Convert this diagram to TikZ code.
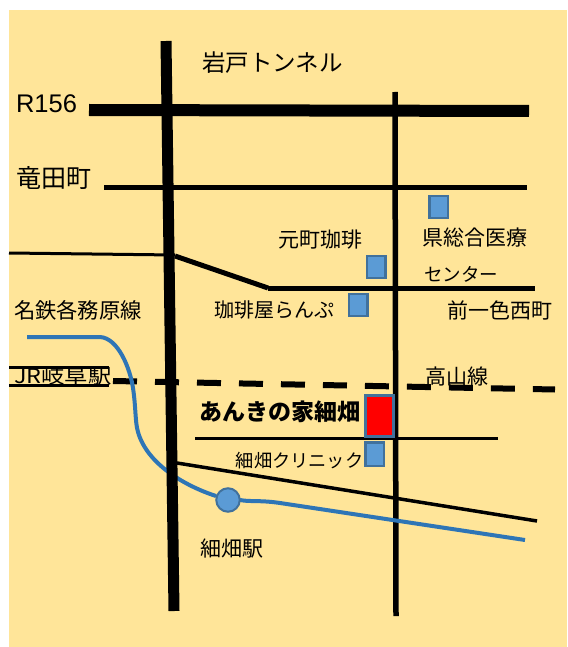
\documentclass[tikz,border=0pt]{standalone}
\usepackage{graphicx}
\usepackage{fontspec}
\setmainfont{Noto Sans CJK JP}
\newfontfamily\latinfont{Liberation Sans}
\definecolor{bg}{HTML}{FFE599}
\definecolor{bluefill}{HTML}{5B9BD5}
\definecolor{blueedge}{HTML}{41719C}
\definecolor{river}{HTML}{2E75B6}
\tikzset{
  x=1pt,y=-1pt,
  lab/.style={inner sep=0pt,anchor=center,text=black,font=\fontsize{#1}{#1}\selectfont},
  lab/.default=19,
  mark box/.style={draw=blueedge,fill=bluefill,line width=2.5pt,inner sep=0pt,minimum width=18.5pt,minimum height=22pt},
  road/.style={draw=black,line width=#1},
  road/.default=4
}
\begin{document}
\begin{tikzpicture}
\useasboundingbox (0,0) rectangle (567,647);
\fill[white] (0,0) rectangle (567,647);
\fill[bg] (9,10) rectangle (567,647);
% roads
\draw[road=12] (89,110) -- (529,111);
\draw[road=5] (104,187) -- (527,187);
\draw[road=5.5] (395,92) -- (396,616);
\draw[road=3] (9,253) -- (175,255);
\draw[road=5] (175,256) -- (268,288);
\draw[road=5] (268,288) -- (535,288);
\draw[road=3] (195,438) -- (498,438);
\draw[road=3.5] (177,463) -- (537,521);
\draw[line width=6pt,dash pattern=on 24pt off 18pt] (113,381) -- (555,389.5);
\draw[line width=3pt] (9,367) -- (109,367);
\draw[line width=3pt] (9,385) -- (109,385);
% river
\draw[river,line width=4pt] (27,337) -- (100,337) .. controls (118,338) and (130,368) .. (133,388)
  .. controls (136,408) and (135,422) .. (138,432)
  .. controls (147,464) and (185,486) .. (216,496);
\draw[river,line width=4pt] (240,500) .. controls (250,502) and (260,500) .. (280,503) -- (525,540);
\draw[road=11] (166,41) -- (174,611);
\node[circle,draw=blueedge,fill=bluefill,line width=2pt,minimum size=23.5pt,inner sep=0pt] (st) at (228,500) {};
% boxes
\node[mark box] (b1) at (438.7,207) {};
\node[mark box] (b2) at (376,267) {};
\node[mark box] (b3) at (358,305) {};
\node[mark box,minimum height=23.5pt] (b4) at (374.5,454) {};
\node[draw=blueedge,fill=red,line width=3pt,minimum width=27.5pt,minimum height=41.5pt,inner sep=0pt] (home) at (379.5,416) {};
% labels
\node[lab=23.5] (t1) at (272.5,63) {岩戸トンネル};
\node[lab=25.5,font=\fontsize{25.5}{25.5}\selectfont\latinfont] (t2) at (46.5,104) {R156};
\node[lab=25] (t3) at (54,178) {竜田町};
\node[lab=21] (t4) at (320,240) {元町珈琲};
\node[lab=21] (t5) at (475,238) {県総合医療};
\node[lab=18.5] (t6) at (461,274) {センター};
\node[lab=20] (t7) at (274,310) {珈琲屋らんぷ};
\node[lab=21] (t8) at (500,310) {前一色西町};
\node[lab=21.3] (t9) at (78,310) {名鉄各務原線};
\node[lab=20] (t10) at (63,376) {\scalebox{1.17}[1]{JR岐阜駅}};
\node[lab=21] (t11) at (456.5,377) {高山線};
\node[lab=23,font=\fontsize{23}{23}\selectfont\bfseries] (t12) at (280,412) {あんきの家細畑};
\node[lab=18.2] (t13) at (299.5,461) {細畑クリニック};
\node[lab=21] (t14) at (232,549) {細畑駅};
\end{tikzpicture}
\end{document}
